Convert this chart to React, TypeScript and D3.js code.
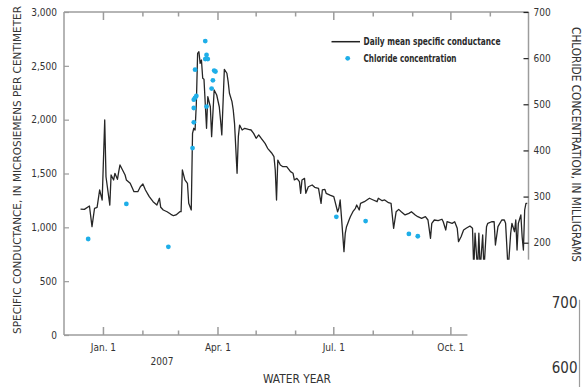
import { useEffect, useRef } from "react"
import * as d3 from "d3"

// Daily mean specific conductance (uS/cm), day counted from Dec. 1, 2006
const condDay = [
  13, 16, 20, 22, 24, 26, 28, 30, 32, 33,
  36, 37, 39, 40, 42, 43, 44, 46, 48, 49,
  52, 55, 58, 60, 62, 64, 67, 70, 73, 75,
  76, 78, 81, 84, 86, 88, 91, 92, 93, 95,
  97, 98, 100, 101, 102, 103, 104, 105, 106, 107,
  108, 109, 110, 112, 113, 115, 116, 118, 120, 122,
  123, 124, 126, 128, 129, 130, 132, 133, 134, 136,
  137, 138, 140, 142, 145, 147, 149, 151, 153, 155,
  158, 160, 163, 165, 166, 167, 168, 170, 172, 175,
  178, 180, 181, 183, 185, 186, 187, 189, 190, 192,
  195, 197, 200, 202, 203, 205, 206, 209, 212, 213,
  215, 216, 217, 218, 220, 221, 222, 224, 225, 227,
  229, 230, 232, 233, 236, 238, 240, 243, 246, 247,
  250, 252, 255, 257, 259, 261, 263, 265, 268, 271,
  273, 276, 278, 281, 284, 286, 288, 289, 291, 294,
  297, 298, 300, 301, 305, 307, 309, 310, 312, 314,
  316, 319, 321, 322, 323, 325, 326, 327, 329, 330,
  332, 333, 336, 338, 339, 341, 344, 346, 347, 349,
  351, 352, 354, 355, 356, 357, 359, 360, 361, 362,
  363, 364,
]
const condValue = [
  1170, 1167, 1198, 1006, 1177, 1186, 1347, 1254, 1997, 1470,
  1207, 1486, 1440, 1502, 1446, 1517, 1579, 1533, 1486, 1440,
  1409, 1331, 1331, 1377, 1402, 1347, 1285, 1238, 1207, 1270,
  1186, 1161, 1145, 1121, 1108, 1115, 1145, 1145, 1533, 1440,
  1409, 1223, 1161, 1873, 1920, 1904, 2152, 2616, 2631, 2523,
  2554, 2384, 2375, 1920, 2213, 2120, 1842, 2276, 2229, 2120,
  1997, 1858, 2468, 2431, 2353, 2245, 2167, 2090, 1966, 1502,
  1842, 1950, 1904, 1920, 1910, 1904, 1873, 1827, 1858, 1827,
  1780, 1734, 1693, 1656, 1533, 1254, 1625, 1579, 1563, 1563,
  1517, 1502, 1440, 1455, 1424, 1316, 1440, 1455, 1316, 1377,
  1393, 1372, 1362, 1223, 1347, 1353, 1316, 1300, 1285, 1238,
  1145, 1177, 1254, 1099, 774, 945, 1006, 1068, 1099, 1145,
  1177, 1207, 1161, 1223, 1238, 1254, 1270, 1254, 1238, 1270,
  1247, 1254, 1229, 1223, 991, 1145, 1167, 1145, 1115, 1130,
  1145, 1115, 1099, 1084, 1099, 1068, 898, 1037, 1068, 1062,
  1075, 1052, 975, 1052, 1037, 1052, 991, 867, 913, 975,
  991, 1012, 991, 600, 945, 600, 945, 600, 929, 600,
  1006, 1037, 1052, 1052, 836, 1006, 1068, 1068, 1037, 600,
  945, 1037, 959, 1068, 789, 1037, 1115, 913, 789, 1161,
  1223, 1223,
]

// Chloride samples (mg/L)
const chlDate = [
  "2006-12-20", "2007-01-19", "2007-02-21", "2007-03-12", "2007-03-13",
  "2007-03-13", "2007-03-13", "2007-03-14", "2007-03-15", "2007-03-14",
  "2007-03-22", "2007-03-23", "2007-03-22", "2007-03-24", "2007-03-29",
  "2007-03-30", "2007-03-28", "2007-03-27", "2007-03-23", "2007-07-03",
  "2007-07-26", "2007-08-29", "2007-09-05",
]
const chlValue = [
  208, 284, 191, 405, 461, 492, 510, 514, 518, 575,
  637, 607, 598, 598, 573, 571, 552, 534, 495, 256,
  247, 219, 214,
]

const monthTicks = [
  "2007-01-01", "2007-02-01", "2007-03-01", "2007-04-01", "2007-05-01", "2007-06-01",
  "2007-07-01", "2007-08-01", "2007-09-01", "2007-10-01", "2007-11-01",
]
const labeledMonths = ["2007-01-01", "2007-04-01", "2007-07-01", "2007-10-01"]
const monthLabels = ["Jan. 1", "Apr. 1", "Jul. 1", "Oct. 1"]
const condTicks = [0, 500, 1000, 1500, 2000, 2500, 3000]
const chlTicks = [200, 300, 400, 500, 600, 700]
const strayTicks = [700, 600]

export default function App() {
  const svgRef = useRef<SVGSVGElement>(null)

  useEffect(() => {
    const svg = d3.select(svgRef.current)
    svg.selectAll("*").remove()

    const font = "'Liberation Sans Narrow', 'DejaVu Sans Condensed', 'Arial Narrow', sans-serif"
    const frame = "#9c9c9c"
    const ink = "#333"
    const left = 64, right = 528.5, top = 12, bottom = 335

    const parse = d3.timeParse("%Y-%m-%d")
    const start = parse("2006-12-01")!
    const x = d3.scaleTime().domain([start, parse("2007-12-01")!]).range([left, right])
    const yC = d3.scaleLinear().domain([0, 3000]).range([bottom, top])
    const yCl = d3.scaleLinear().domain([0, 700]).range([bottom, top])
    const floorY = yC(700)

    // frame
    const fr = svg.append("g").attr("stroke", frame).attr("stroke-width", 1.5).attr("fill", "none")
    fr.append("line").attr("x1", left).attr("x2", right).attr("y1", top).attr("y2", top)
    fr.append("line").attr("x1", left).attr("x2", left).attr("y1", top).attr("y2", bottom)
    fr.append("line").attr("x1", right).attr("x2", right).attr("y1", top).attr("y2", floorY)
    fr.append("line").attr("x1", left).attr("x2", x(parse("2007-10-14")!)).attr("y1", bottom).attr("y2", bottom)

    // month ticks, top (down) and bottom (up)
    const months = monthTicks.map(m => ({ d: parse(m)!, major: labeledMonths.includes(m) }))
    fr.selectAll(".tt").data(months).enter().append("line")
      .attr("x1", d => x(d.d)).attr("x2", d => x(d.d))
      .attr("y1", top).attr("y2", d => top + (d.major ? 8 : 4.5))
    fr.selectAll(".bt").data(months.filter(d => d.d <= parse("2007-10-01")!)).enter().append("line")
      .attr("x1", d => x(d.d)).attr("x2", d => x(d.d))
      .attr("y1", bottom).attr("y2", d => bottom - (d.major ? 8 : 4.5))

    svg.selectAll(".ml").data(labeledMonths).enter().append("text")
      .attr("x", d => x(parse(d)!)).attr("y", 351)
      .attr("text-anchor", "middle").attr("font-family", font).attr("font-size", 10).attr("fill", ink)
      .text((d, i) => monthLabels[i])
    svg.append("text").attr("x", 162).attr("y", 364.5).attr("text-anchor", "middle")
      .attr("font-family", font).attr("font-size", 10).attr("fill", ink).text("2007")
    svg.append("text").attr("x", 297).attr("y", 383).attr("text-anchor", "middle")
      .attr("font-family", font).attr("font-size", 12.5).attr("fill", ink)
      .attr("textLength", 68).attr("lengthAdjust", "spacingAndGlyphs").text("WATER YEAR")

    // left axis
    const gl = svg.append("g").attr("transform", `translate(${left},0)`)
      .call(d3.axisLeft(yC).tickValues(condTicks).tickFormat(d3.format(",")).tickSizeInner(-5).tickSizeOuter(0).tickPadding(7))
    gl.select(".domain").remove()
    gl.selectAll(".tick line").attr("stroke", frame).attr("stroke-width", 1.2)
    gl.selectAll("text").attr("font-family", font).attr("font-size", 10).attr("fill", ink)

    // right axis
    const gr = svg.append("g").attr("transform", `translate(${right},0)`)
      .call(d3.axisRight(yCl).tickValues(chlTicks).tickSizeInner(-5).tickSizeOuter(0).tickPadding(5))
    gr.select(".domain").remove()
    gr.selectAll(".tick line").attr("stroke", "#222").attr("stroke-width", 1.2)
    gr.selectAll("text").attr("font-family", font).attr("font-size", 10).attr("fill", ink)

    // axis titles
    svg.append("text").attr("transform", "translate(20.5,170) rotate(-90)")
      .attr("text-anchor", "middle").attr("font-family", font).attr("font-size", 11).attr("fill", ink)
      .attr("textLength", 328).attr("lengthAdjust", "spacingAndGlyphs")
      .text("SPECIFIC CONDUCTANCE, IN MICROSIEMENS PER CENTIMETER")
    svg.append("text").attr("transform", "translate(571.5,144.5) rotate(90)")
      .attr("text-anchor", "middle").attr("font-family", font).attr("font-size", 11.5).attr("fill", ink)
      .attr("textLength", 235).attr("lengthAdjust", "spacingAndGlyphs")
      .text("CHLORIDE CONCENTRATION, IN MILLIGRAMS")

    // conductance line, clipped at the chloride axis floor
    svg.append("defs").append("clipPath").attr("id", "plotclip")
      .append("rect").attr("x", left).attr("y", top).attr("width", right - left).attr("height", floorY - top)
    const line = d3.line<number>()
      .x((d, i) => x(d3.timeDay.offset(start, condDay[i])))
      .y(d => yC(d))
    svg.append("path").datum(condValue)
      .attr("clip-path", "url(#plotclip)")
      .attr("fill", "none").attr("stroke", "#262626").attr("stroke-width", 1.3)
      .attr("stroke-linejoin", "round")
      .attr("d", line)

    // chloride points
    svg.selectAll(".cl").data(chlValue).enter().append("circle")
      .attr("cx", (d, i) => x(parse(chlDate[i])!))
      .attr("cy", d => yCl(d))
      .attr("r", 2.4).attr("fill", "#1eaee8")

    // legend
    const lg = svg.append("g").attr("font-family", font).attr("font-size", 10).attr("font-weight", "bold").attr("fill", "#2a2a2a")
    lg.append("line").attr("x1", 331.5).attr("x2", 360).attr("y1", 41.7).attr("y2", 41.7)
      .attr("stroke", "#222").attr("stroke-width", 1.5)
    lg.append("text").attr("x", 363.5).attr("y", 45.2)
      .attr("textLength", 137).attr("lengthAdjust", "spacingAndGlyphs").text("Daily mean specific conductance")
    lg.append("circle").attr("cx", 347.7).attr("cy", 58.3).attr("r", 2.4).attr("fill", "#1eaee8")
    lg.append("text").attr("x", 363.5).attr("y", 61.8)
      .attr("textLength", 93).attr("lengthAdjust", "spacingAndGlyphs").text("Chloride concentration")

    // stray axis fragment at bottom right
    const ys = d3.scaleLinear().domain([600, 700]).range([368, 303])
    svg.append("line").attr("x1", 579.5).attr("x2", 579.5).attr("y1", ys(705)).attr("y2", 387)
      .attr("stroke", frame).attr("stroke-width", 1.2)
    svg.selectAll(".st").data(strayTicks).enter().append("text")
      .attr("x", 577.5).attr("y", d => ys(d) + 5.3).attr("text-anchor", "end")
      .attr("font-family", font).attr("font-size", 15).attr("fill", ink)
      .text(d => String(d))
  }, [])

  return (
    <svg ref={svgRef} width={584} height={387}
      style={{ position: "absolute", left: 0, top: 0, background: "#fff" }} />
  )
}
